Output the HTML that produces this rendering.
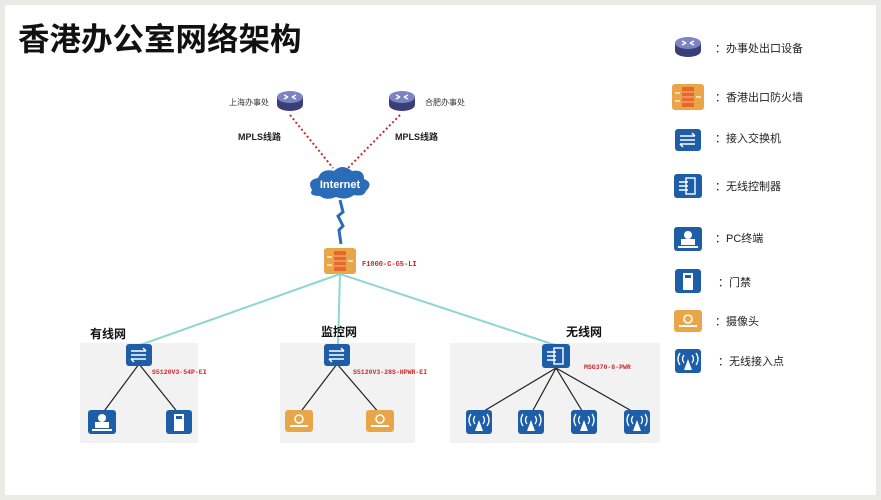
<!DOCTYPE html>
<html><head><meta charset="utf-8"><style>
html,body{margin:0;padding:0;background:#e9ebe4;}
svg{display:block;font-family:"Liberation Sans","Noto Sans CJK SC",sans-serif;}
</style></head><body>
<svg width="881" height="500" viewBox="0 0 881 500" xmlns="http://www.w3.org/2000/svg">
<defs>
<g id="router"><ellipse cx="0" cy="8" rx="13" ry="6" fill="#3a3f7a"/><rect x="-13" y="0" width="26" height="8" fill="#3a3f7a"/><ellipse cx="0" cy="0" rx="13" ry="6" fill="#7d84c4"/><path d="M-6,-2 l4,2 M6,-2 l-4,2 M-6,2 l4,-2 M6,2 l-4,-2" stroke="#fff" stroke-width="1.3"/></g>
<g id="sw"><rect x="-13" y="-11" width="26" height="22" rx="3" fill="#1e5ea8"/><path d="M-8,-4 h15 M7,-4 l-3,-3 M-8,4 h15 M-8,4 l3,3 M-8,0 h15" stroke="#fff" stroke-width="1.5" fill="none"/></g>
<g id="ac"><rect x="-14" y="-12" width="28" height="24" rx="3" fill="#1e5ea8"/><rect x="-2" y="-8" width="9" height="16" fill="none" stroke="#fff" stroke-width="1.4"/><path d="M-9,-4 h9 M-9,0 h9 M-9,4 h9" stroke="#fff" stroke-width="1.4"/></g>
<g id="pc"><rect x="-14" y="-12" width="28" height="24" rx="3" fill="#1e5ea8"/><circle cx="0" cy="-4" r="4" fill="#fff"/><rect x="-7" y="0" width="14" height="6" fill="#fff"/><rect x="-10" y="7" width="20" height="2" fill="#fff"/></g>
<g id="door"><rect x="-13" y="-12" width="26" height="24" rx="3" fill="#1e5ea8"/><rect x="-5" y="-8" width="10" height="17" fill="#fff"/><rect x="-3" y="-6" width="6" height="3" fill="#1e5ea8"/></g>
<g id="cam"><rect x="-14" y="-11" width="28" height="22" rx="3" fill="#e9a649"/><circle cx="0" cy="-2" r="4" fill="none" stroke="#fff" stroke-width="1.5"/><rect x="-9" y="4" width="18" height="2" fill="#fff"/></g>
<g id="ap"><rect x="-13" y="-12" width="26" height="24" rx="3" fill="#1e5ea8"/><path d="M0,-2 L-4,9 H4 Z" fill="#fff"/><path d="M-4,-6 q-3,4 0,8 M4,-6 q3,4 0,8 M-8,-8 q-4,6 0,12 M8,-8 q4,6 0,12" stroke="#fff" stroke-width="1.3" fill="none"/></g>
<g id="fw"><rect x="-16" y="-13" width="32" height="26" rx="3" fill="#e9a649"/><rect x="-6" y="-10" width="12" height="20" fill="#e8682a"/><path d="M-6,-5 h12 M-6,0 h12 M-6,5 h12" stroke="#f5c08a" stroke-width="1"/><path d="M-13,-4 h5 M8,0 h5 M-13,4 h5" stroke="#fff" stroke-width="1.2"/></g>
</defs>
<rect x="5" y="5" width="871" height="490" fill="#fff"/>
<text x="18" y="50" font-size="31.5" font-weight="bold" fill="#111">香港办公室网络架构</text>

<use href="#router" x="290" y="97"/><use href="#router" x="402" y="97"/>
<text x="229" y="105" font-size="8" fill="#333">上海办事处</text>
<text x="425" y="105" font-size="8" fill="#333">合肥办事处</text>
<text x="238" y="140" font-size="9" font-weight="bold" fill="#222">MPLS线路</text>
<text x="395" y="140" font-size="9" font-weight="bold" fill="#222">MPLS线路</text>
<path d="M290,115 L333,168 M400,115 L348,168" stroke="#c0302a" stroke-width="2" stroke-dasharray="2,2.5"/>
<path d="M312,190 q-6,-10 6,-12 q4,-10 16,-7 q8,-8 18,0 q12,-2 12,8 q10,4 2,12 q-2,6 -12,4 q-8,6 -18,2 q-10,4 -16,-1 q-12,0 -8,-6z" fill="#2a6cb8"/>
<text x="340" y="188" font-size="11" font-weight="bold" fill="#fff" text-anchor="middle">Internet</text>
<path d="M340,200 l3,12 l-5,4 l5,10 l-4,4 l2,14" stroke="#2a6cb8" stroke-width="3" fill="none"/>
<use href="#fw" x="340" y="261"/>
<text x="362" y="266" font-size="7" font-weight="bold" fill="#d0252a" font-family="Liberation Mono,monospace">F1000-C-G5-LI</text>

<rect x="80" y="343" width="118" height="100" fill="#f2f2f2"/>
<rect x="280" y="343" width="135" height="100" fill="#f2f2f2"/>
<rect x="450" y="343" width="210" height="100" fill="#f2f2f2"/>
<path d="M340,274 L140,345 M340,274 L338,345 M340,274 L555,345" stroke="#8fd6d0" stroke-width="2"/>
<text x="90" y="338" font-size="12" font-weight="bold" fill="#111">有线网</text>
<text x="321" y="336" font-size="12" font-weight="bold" fill="#111">监控网</text>
<text x="566" y="336" font-size="12" font-weight="bold" fill="#111">无线网</text>
<g stroke="#222" stroke-width="1.2">
<path d="M139,364 L102,414 M139,364 L179,414"/>
<path d="M337,364 L299,414 M337,364 L380,414"/>
<path d="M556,368 L479,414 M556,368 L531,414 M556,368 L584,414 M556,368 L637,414"/>
</g>
<use href="#sw" x="139" y="355"/><use href="#sw" x="337" y="355"/><use href="#ac" x="556" y="356"/>
<g font-size="6.5" font-weight="bold" fill="#d0252a" font-family="Liberation Mono,monospace">
<text x="152" y="374">S5120V3-54P-EI</text>
<text x="353" y="374">S5120V3-28S-HPWR-EI</text>
<text x="584" y="369">MSG370-8-PWR</text>
</g>
<use href="#pc" x="102" y="422"/><use href="#door" x="179" y="422"/>
<use href="#cam" x="299" y="421"/><use href="#cam" x="380" y="421"/>
<use href="#ap" x="479" y="422"/><use href="#ap" x="531" y="422"/><use href="#ap" x="584" y="422"/><use href="#ap" x="637" y="422"/>

<use href="#router" x="688" y="43"/>
<use href="#fw" x="688" y="97"/>
<use href="#sw" x="688" y="140"/>
<use href="#ac" x="688" y="186"/>
<use href="#pc" x="688" y="239"/>
<use href="#door" x="688" y="281"/>
<use href="#cam" x="688" y="321"/>
<use href="#ap" x="688" y="361"/>
<g font-size="11" fill="#222">
<text x="715" y="52">：办事处出口设备</text>
<text x="715" y="101">：香港出口防火墙</text>
<text x="715" y="142">：接入交换机</text>
<text x="715" y="190">：无线控制器</text>
<text x="715" y="242">：PC终端</text>
<text x="718" y="286">：门禁</text>
<text x="715" y="325">：摄像头</text>
<text x="718" y="365">：无线接入点</text>
</g>
</svg>
</body></html>
